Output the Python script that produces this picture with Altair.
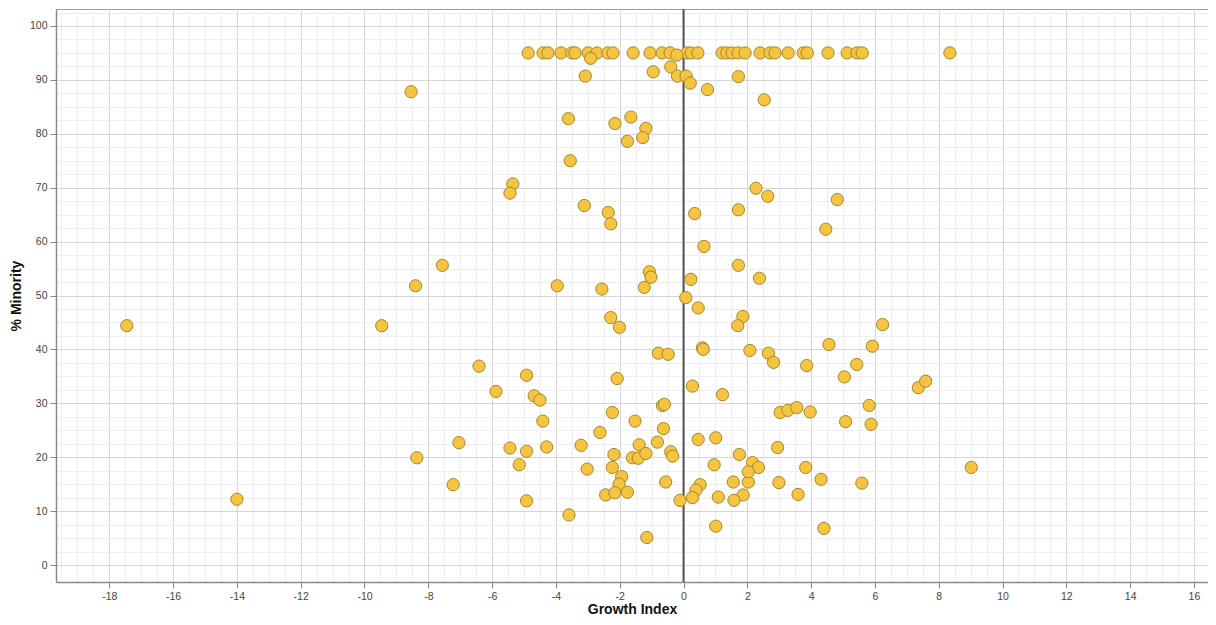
import altair as alt
import pandas as pd

# Growth Index (x) and % Minority (y)
top_x = [-4.87, -4.40, -4.25, -3.84, -3.50, -3.40, -2.99, -2.71, -2.37, -2.21,
         -1.58, -1.05, -0.67, -0.42, 0.11, 0.24, 0.45, 1.21, 1.36, 1.52, 1.71,
         1.93, 2.40, 2.71, 2.87, 3.28, 3.75, 3.88, 4.53, 5.13, 5.44, 5.60, 8.35]
top_y = [95.0] * len(top_x)

other_x = [-2.91, -0.21,
           -3.08, -0.95, -0.40, -0.19, 0.08, 0.21, 0.75, 1.72, 2.53, -8.54,
           -3.61, -2.15, -1.65, -1.18, -1.28, -1.76, -3.55, -5.35, -5.44, 2.27,
           2.64, 4.82,
           -3.11, -2.36, -2.28, 0.35, 1.72, 0.64, -7.56, -8.40, -3.96, -2.56,
           -1.07, -1.02, -1.23, 0.23, 1.72, 2.38, 0.07, 0.46, -2.28, -2.01,
           1.86, 1.70, -0.79, -0.48, 0.59, 0.62, 2.08, 2.66, 2.82, -6.41,
           -4.92, -2.08, -5.88, 0.28, 1.22, -4.68, -4.50, -0.66, -0.60,
           4.46, 6.24, 4.56, 5.92, 3.86, 5.43, 5.04, 7.36, 7.59, 5.82,
           3.03, 3.27, 3.55, 3.97, 5.08, 5.88, 2.95, 2.16, 2.35, 3.83, 4.31,
           5.59, 9.02, 2.99, 2.03, 3.59, 4.40,
           -8.36, -7.04, -7.22, -5.44, -4.92, -5.15, -4.92, -4.29, -4.41,
           -3.59, -3.21, -3.02, -2.62, -2.23, -2.18, -2.23, -1.94, -2.02,
           -2.44, -2.15, -1.76, -1.52, -1.39, -1.60, -1.42, -1.18, -1.15,
           -0.82, -0.63, -0.40, -0.34, -0.56, -0.11,
           0.46, 1.01, 0.96, 0.52, 0.39, 0.28, 1.09, 1.01, 1.75, 2.03, 1.56,
           1.87, 1.58,
           -14.0, -17.45, -9.46]
other_y = [94.0, 94.6,
           90.7, 91.5, 92.4, 90.7, 90.7, 89.4, 88.2, 90.6, 86.3, 87.8,
           82.8, 81.9, 83.1, 81.0, 79.3, 78.6, 75.0, 70.7, 69.0, 69.9,
           68.4, 67.8,
           66.7, 65.4, 63.3, 65.2, 65.9, 59.1, 55.6, 51.8, 51.8, 51.2,
           54.4, 53.4, 51.5, 53.0, 55.6, 53.2, 49.6, 47.7, 45.9, 44.1,
           46.1, 44.4, 39.3, 39.1, 40.3, 40.0, 39.8, 39.3, 37.6, 36.9,
           35.2, 34.6, 32.2, 33.2, 31.6, 31.4, 30.6, 29.6, 29.8,
           62.3, 44.6, 40.9, 40.6, 37.0, 37.2, 34.9, 32.9, 34.1, 29.6,
           28.3, 28.7, 29.2, 28.4, 26.6, 26.1, 21.8, 19.0, 18.1, 18.1, 15.9,
           15.2, 18.1, 15.3, 15.4, 13.1, 6.8,
           19.9, 22.7, 14.9, 21.7, 21.1, 18.6, 11.9, 21.9, 26.7,
           9.3, 22.2, 17.8, 24.6, 28.3, 20.5, 18.1, 16.4, 15.0,
           13.0, 13.4, 13.5, 26.7, 22.3, 19.9, 19.8, 20.7, 5.1,
           22.8, 25.3, 21.0, 20.2, 15.4, 12.0,
           23.3, 23.6, 18.6, 14.9, 13.9, 12.5, 12.6, 7.2, 20.5, 17.3, 15.4,
           13.0, 12.0,
           12.2, 44.4, 44.4]

x_ticks = [v / 2 for v in range(-39, 33)]      # gridline positions, -19.5 .. 16
y_ticks = [v * 2.5 for v in range(0, 42)]      # gridline positions, 0 .. 102.5
zero_line = [0.0]

df = pd.DataFrame({"growth": top_x + other_x, "minority": top_y + other_y})
zdf = pd.DataFrame({"growth": zero_line})

FONT = "Liberation Sans"
MAJOR = "#d6d6d6"
MINOR = "#eeeeee"

x_scale = alt.Scale(domain=[-19.67, 16.44], nice=False, zero=False)
y_scale = alt.Scale(domain=[-3.15, 103.15], nice=False, zero=False)

x_axis = alt.Axis(
    values=x_ticks,
    title="Growth Index",
    labelExpr="abs(datum.value % 2) < 0.01 ? toString(datum.value) : ''",
    gridColor={"condition": {"test": "abs(datum.value % 2) < 0.01", "value": MAJOR}, "value": MINOR},
    tickOpacity={"condition": {"test": "abs(datum.value % 2) < 0.01", "value": 1}, "value": 0},
    tickSize=6,
    tickColor="#888888",
    labelPadding=3,
    titlePadding=1,
    labelFlush=False,
    labelOverlap=False,
)
y_axis = alt.Axis(
    values=y_ticks,
    title="% Minority",
    labelExpr="abs(datum.value % 10) < 0.01 ? toString(datum.value) : ''",
    gridColor={"condition": {"test": "abs(datum.value % 10) < 0.01", "value": MAJOR}, "value": MINOR},
    tickOpacity={"condition": {"test": "abs(datum.value % 10) < 0.01", "value": 1}, "value": 0},
    tickSize=6,
    tickColor="#888888",
    labelPadding=3,
    titlePadding=6,
    labelFlush=False,
    labelOverlap=False,
)

zero = alt.Chart(zdf).mark_rule(
    color="#555555", strokeWidth=2
).encode(x=alt.X("growth:Q", scale=x_scale, axis=x_axis))

points = alt.Chart(df).mark_circle(
    size=150, color="#F5C542", stroke="#A6862C", strokeWidth=1, opacity=1
).encode(
    x=alt.X("growth:Q", scale=x_scale, axis=x_axis),
    y=alt.Y("minority:Q", scale=y_scale, axis=y_axis),
)

chart = alt.layer(zero, points).properties(
    width=1152,
    height=573,
    autosize=alt.AutoSizeParams(type="none"),
    padding={"left": 48, "top": 1, "right": 0, "bottom": 35},
).configure_view(
    stroke="#9a9a9a", strokeWidth=1
).configure_axis(
    labelFont=FONT, titleFont=FONT, labelFontSize=10.5, labelColor="#444444",
    titleFontSize=14, titleFontWeight="bold", titleColor="#111111",
    domainColor="#8a8a8a", domainWidth=1.5, grid=True,
)

chart.save("out.html", embed_options={"renderer": "svg", "actions": False})
